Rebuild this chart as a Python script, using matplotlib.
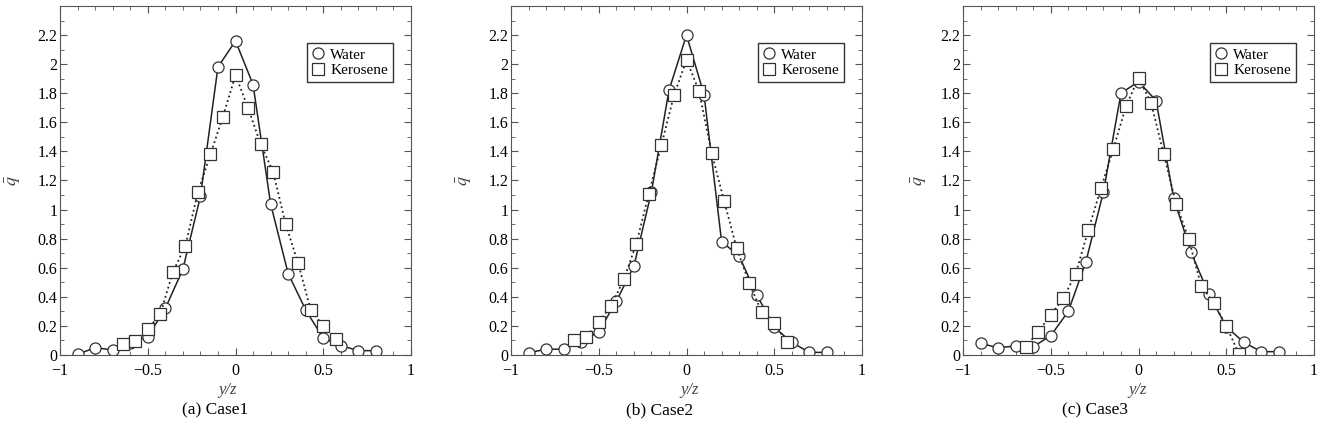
import numpy as np
from matplotlib import pyplot as plt
from matplotlib.ticker import MultipleLocator

plt.rcParams['font.family'] = ['Liberation Serif', 'DejaVu Serif']
plt.rcParams['mathtext.fontset'] = 'stix'

# water points every 0.1, kerosene points every 1/14
x_water = np.arange(-9, 9) / 10.0
x_kero = np.arange(-9, 9) / 14.0

water1 = [0.005, 0.05, 0.035, 0.085, 0.125, 0.32, 0.59, 1.09, 1.98, 2.16,
          1.86, 1.04, 0.56, 0.31, 0.115, 0.065, 0.03, 0.03]
kero1 = [0.075, 0.096, 0.18, 0.28, 0.57, 0.75, 1.12, 1.38, 1.64, 1.925,
         1.70, 1.45, 1.26, 0.90, 0.63, 0.31, 0.20, 0.11]

water2 = [0.015, 0.04, 0.04, 0.09, 0.16, 0.37, 0.61, 1.12, 1.82, 2.20,
          1.79, 0.78, 0.68, 0.415, 0.19, 0.087, 0.018, 0.018]
kero2 = [0.105, 0.125, 0.225, 0.34, 0.52, 0.765, 1.11, 1.445, 1.785, 2.03,
         1.815, 1.39, 1.06, 0.735, 0.495, 0.295, 0.22, 0.087]

water3 = [0.08, 0.05, 0.062, 0.057, 0.133, 0.30, 0.64, 1.12, 1.80, 1.88,
          1.75, 1.08, 0.705, 0.42, 0.195, 0.087, 0.023, 0.023]
kero3 = [0.053, 0.16, 0.275, 0.39, 0.56, 0.86, 1.145, 1.42, 1.71, 1.905,
         1.735, 1.385, 1.04, 0.80, 0.475, 0.36, 0.20, 0.01]

captions = ['(a) Case1', '(b) Case2', '(c) Case3']
xtick_vals = [-1, -0.5, 0, 0.5, 1]
xtick_labels = ['\u22121', '\u22120.5', '0', '0.5', '1']
ytick_vals = np.arange(0, 2.3, 0.2)
ytick_labels = ['0', '0.2', '0.4', '0.6', '0.8', '1', '1.2', '1.4',
                '1.6', '1.8', '2', '2.2']
waters = [water1, water2, water3]
keros = [kero1, kero2, kero3]

fig = plt.figure(figsize=(13.28, 4.44), dpi=100)
lefts = [60, 511, 963]
cap_x = [215, 660, 1095]
xlab_x = [0.477, 0.51, 0.497]
ylab_x = [-0.104, -0.106, -0.097]

for i in range(3):
    ax = fig.add_axes([lefts[i] / 1328, 1 - 355 / 444, 351 / 1328, 349 / 444])
    ax.plot(x_water, waters[i], '-', color='#222222', lw=1.1, marker='o', ms=8,
            mfc='white', mec='#333333', mew=0.9, label='Water')
    ax.plot(x_kero, keros[i], ':', color='#222222', lw=1.3, marker='s', ms=8,
            mfc='white', mec='#333333', mew=0.9, label='Kerosene')
    ax.set_xlim(-1, 1)
    ax.set_ylim(0, 2.4)
    ax.set_xticks(xtick_vals)
    ax.set_xticklabels(xtick_labels)
    ax.set_yticks(ytick_vals)
    ax.set_yticklabels(ytick_labels)
    ax.xaxis.set_minor_locator(MultipleLocator(0.1))
    ax.yaxis.set_minor_locator(MultipleLocator(0.1))
    ax.tick_params(which='both', direction='in', top=True, right=True,
                   labelsize=11.5, color='#555555')
    ax.tick_params(axis='y', pad=2)
    ax.tick_params(axis='x', pad=6)
    ax.tick_params(which='major', length=5)
    ax.tick_params(which='minor', length=3)
    for s in ax.spines.values():
        s.set_color('#555555')
    ax.set_xlabel('y/z', style='italic', fontsize=12, color='#444444')
    ax.xaxis.set_label_coords(xlab_x[i], -0.077)
    ax.set_ylabel(r'$\bar{q}$', fontsize=13, color='#444444')
    ax.yaxis.set_label_coords(ylab_x[i], 0.5)
    leg = ax.legend(loc='upper right', bbox_to_anchor=(0.95, 0.895), fontsize=11,
                    fancybox=False, edgecolor='#333333', framealpha=1,
                    handlelength=0.7, handletextpad=0.45, borderpad=0.35,
                    labelspacing=0.1, borderaxespad=0)
    for h in leg.legend_handles:
        h.set_linestyle('none')
    fig.text(cap_x[i] / 1328, 1 - 410 / 444, captions[i], ha='center',
             va='center', fontsize=12.5)

plt.savefig('out.png', dpi=100)
